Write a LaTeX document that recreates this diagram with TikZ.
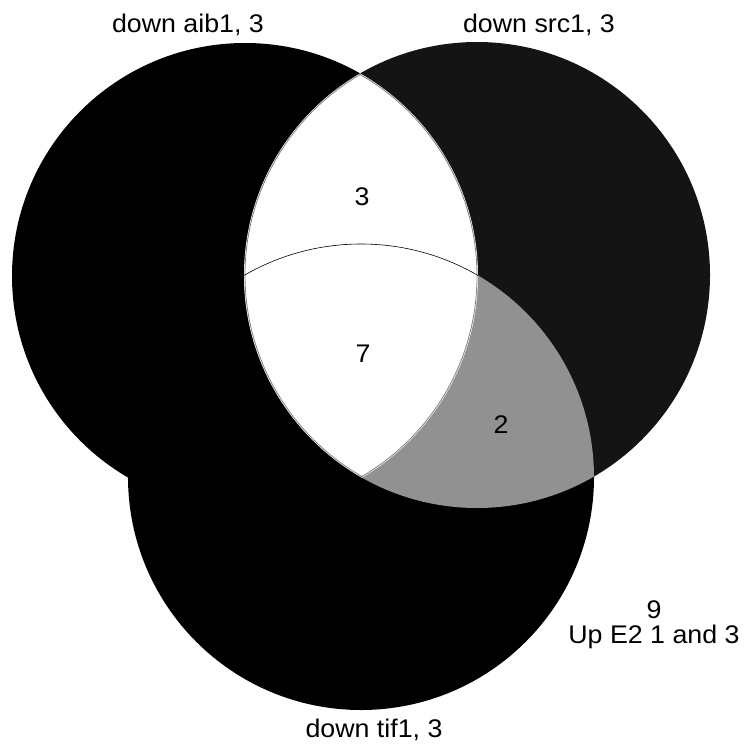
\documentclass[tikz,border=0pt]{standalone}
\usepackage{fontspec}
\setmainfont{Liberation Sans}[FakeStretch=1.05]
\definecolor{srcfill}{gray}{0.08}
\definecolor{twofill}{gray}{0.57}
\begin{document}
\begin{tikzpicture}[x=1pt,y=-1pt,
    lbl/.style={font=\fontsize{25.5}{25}\selectfont, inner sep=0pt, anchor=base}]
    \useasboundingbox (0,0) rectangle (744,744);
    \coordinate (aib) at (245,276);
    \coordinate (src) at (477,275);
    \coordinate (tif) at (361,477);
    % the three sets
    \fill[srcfill] (src) circle (233pt);
    \fill[black] (aib) circle (233pt);
    \fill[black] (tif) circle (233pt);
    \begin{scope}
        \clip (src) circle (233pt);
        \fill[twofill] (tif) circle (233pt);
    \end{scope}
    \begin{scope}
        \clip (aib) circle (233pt);
        \fill[white] (src) circle (233pt);
        \draw[gray, line width=0.8pt] (src) circle (232pt);
    \end{scope}
    \begin{scope}
        \clip (src) circle (233pt);
        \draw[gray, line width=0.8pt] (aib) circle (232pt);
        \clip (aib) circle (233pt);
        \draw[black, line width=0.6pt] (tif) circle (233pt);
    \end{scope}
    % counts and names
    \node[lbl] (n3) at (362,205) {3};
    \node[lbl] (n7) at (363,362) {7};
    \node[lbl] (n2) at (501,433) {2};
    \node[lbl] (aibname) at (188,32) {down aib1, 3};
    \node[lbl] (srcname) at (539,32) {down src1, 3};
    \node[lbl] (tifname) at (374,737) {down tif1, 3};
    \node[lbl, align=center] (rest) at (654,643) {9\\Up E2 1 and 3};
\end{tikzpicture}
\end{document}
